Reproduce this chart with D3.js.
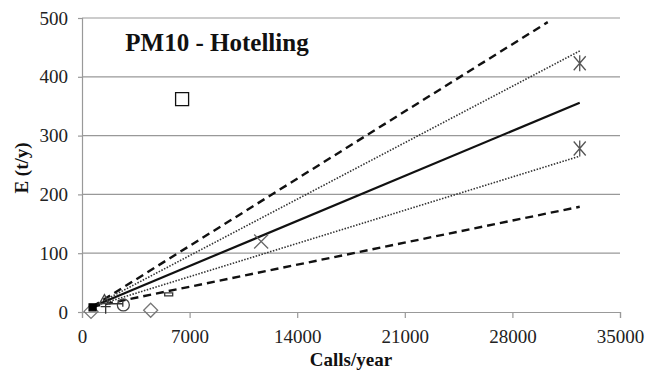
<!DOCTYPE html>
<html>
<head>
<meta charset="utf-8">
</head>
<body style="margin:0; background:#fff">
<div class="board"></div>
<script src="https://d3js.org/d3.v7.min.js"></script>
<script>
    var width = 659, height = 374
    var margin = { top: 18, right: 39, bottom: 62, left: 82 }
    var SERIF = "'Liberation Serif'"

    // axis ticks
    var xTicks = [0, 7000, 14000, 21000, 28000, 35000]
    var yTicks = [0, 100, 200, 300, 400, 500]

    // fitted lines: start and end (calls/year, t/y)
    var fitNames = ["upperDashed", "upperDotted", "mean", "lowerDotted", "lowerDashed"]
    var fitX0 = [670, 670, 670, 670, 670]
    var fitY0 = [9, 9, 9, 9, 9]
    var fitX1 = [30300, 32380, 32380, 32380, 32380]
    var fitY1 = [493, 444, 356, 265, 179]

    // observed ports
    var pointShape = ["square", "asterisk", "asterisk", "times", "diamond", "diamond", "circle", "bar", "filled", "plus", "triangle", "dash"]
    var pointX = [6512, 32380, 32380, 11655, 586, 4467, 2690, 5640, 690, 1540, 1460, 2200]
    var pointY = [362, 423, 278, 120, 1, 3, 12, 30, 8, 9, 21, 14]

    var svg = d3.select(".board")
        .append("svg")
        .attr("width", width)
        .attr("height", height)

    var x = d3.scaleLinear().domain([0, 35000]).range([margin.left, width - margin.right])
    var y = d3.scaleLinear().domain([0, 500]).range([height - margin.bottom, margin.top])

    // gridlines
    svg.append("g")
        .selectAll("line")
        .data(yTicks.slice(1))
        .enter()
        .append("line")
        .attr("x1", x(0))
        .attr("x2", x(35000))
        .attr("y1", d => y(d))
        .attr("y2", d => y(d))
        .attr("stroke", "#999")
        .attr("stroke-width", 1.2)

    var yAxis = svg.append("g")
        .attr("transform", "translate(" + x(0) + ",0)")
        .call(d3.axisLeft(y).tickValues(yTicks).tickSize(4).tickPadding(10).tickFormat(d3.format("d")))
    var xAxis = svg.append("g")
        .attr("transform", "translate(0," + y(0) + ")")
        .call(d3.axisBottom(x).tickValues(xTicks).tickSize(6).tickPadding(12).tickFormat(d3.format("d")))

    ;[yAxis, xAxis].forEach(a => {
        a.attr("font-family", null).attr("font-size", null)
        a.select(".domain").attr("stroke", "#999").attr("stroke-width", 1.2)
        a.selectAll(".tick line").attr("stroke", "#999").attr("stroke-width", 1.2)
        a.selectAll("text")
            .style("font-family", SERIF)
            .style("font-size", "19px")
            .attr("fill", "#222")
    })

    // fitted lines
    var styles = {
        upperDashed: { w: 2.4, dash: "8,5" },
        upperDotted: { w: 1.6, dash: "1.5,1.5" },
        mean: { w: 2.2, dash: null },
        lowerDotted: { w: 1.6, dash: "1.5,1.5" },
        lowerDashed: { w: 2.4, dash: "8,5" }
    }

    svg.append("g")
        .selectAll("line")
        .data(fitNames)
        .enter()
        .append("line")
        .attr("x1", (d, i) => x(fitX0[i]))
        .attr("y1", (d, i) => y(fitY0[i]))
        .attr("x2", (d, i) => x(fitX1[i]))
        .attr("y2", (d, i) => y(fitY1[i]))
        .attr("stroke", d => styles[d].dash == "1.5,1.5" ? "#333" : "#111")
        .attr("stroke-width", d => styles[d].w)
        .attr("stroke-dasharray", d => styles[d].dash)

    // markers
    function markerPath(shape) {
        switch (shape) {
            case "square": return "M-6.5,-6.5H6.5V6.5H-6.5Z"
            case "diamond": return "M0,-7L7,0L0,7L-7,0Z"
            case "times": return "M-7,-7L7,7M-7,7L7,-7"
            case "asterisk": return "M-6,-7L6,7M-6,7L6,-7M0,-8V8"
            case "circle": return "M6,0A6,6 0 1,1 -6,0A6,6 0 1,1 6,0"
            case "bar": return "M-4,-1.5H4V1.5H-4Z"
            case "filled": return "M-3.5,-3.5H3.5V3.5H-3.5Z"
            case "plus": return "M-5,0H5M0,-4V7"
            case "triangle": return "M0,-5L5,4H-5Z"
            case "dash": return "M-7,0H7M7,-3V3"
        }
    }

    var markerColor = {
        square: "#111", diamond: "#777", times: "#666", asterisk: "#555",
        circle: "#444", bar: "#333", filled: "#000", plus: "#333", triangle: "#444", dash: "#333"
    }

    svg.append("g")
        .selectAll("path")
        .data(pointShape)
        .enter()
        .append("path")
        .attr("transform", (d, i) => "translate(" + x(pointX[i]) + "," + y(pointY[i]) + ")")
        .attr("d", d => markerPath(d))
        .attr("fill", d => d == "filled" ? "#000" : (d == "square" || d == "bar" ? "#fff" : "none"))
        .attr("stroke", d => markerColor[d])
        .attr("stroke-width", 1.3)

    // title and axis labels
    svg.append("text")
        .text("PM10 - Hotelling")
        .attr("x", 217)
        .attr("y", 51)
        .attr("text-anchor", "middle")
        .style("font-family", SERIF)
        .style("font-size", "25px")
        .style("font-weight", "bold")
        .attr("fill", "#111")

    svg.append("text")
        .text("Calls/year")
        .attr("x", 351)
        .attr("y", 366)
        .attr("text-anchor", "middle")
        .style("font-family", SERIF)
        .style("font-size", "19px")
        .style("font-weight", "bold")
        .attr("fill", "#111")

    svg.append("text")
        .text("E (t/y)")
        .attr("transform", "translate(28,168) rotate(-90)")
        .attr("text-anchor", "middle")
        .style("font-family", SERIF)
        .style("font-size", "19px")
        .style("font-weight", "bold")
        .attr("fill", "#111")
</script>
</body>
</html>
